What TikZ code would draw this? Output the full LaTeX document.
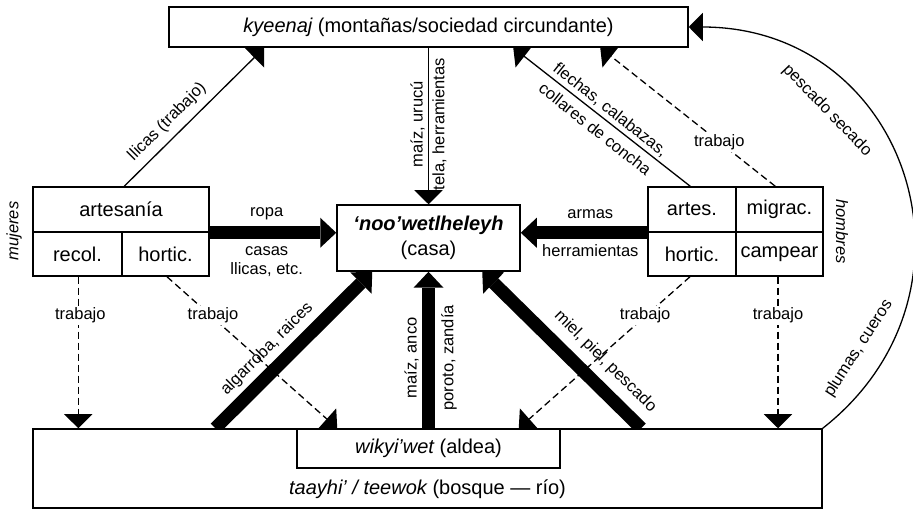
\documentclass[tikz,border=0pt]{standalone}
\usepackage{fontspec}
\setmainfont{Liberation Sans}
\usetikzlibrary{arrows.meta}
\pgfdeclarelayer{bg}
\pgfsetlayers{bg,main}
\newcommand\bigf{\fontsize{20}{25}\selectfont}
\newcommand\smf{\fontsize{16.5}{18.5}\selectfont}
\begin{document}
\begin{tikzpicture}[x=1pt,y=-1pt,
  box/.style={draw,line width=1.5pt,fill=white,inner sep=0pt,font=\bigf,align=center},
  lbl/.style={font=\smf,inner sep=1pt},
  wlbl/.style={lbl,fill=white,inner sep=2pt},
  thinarr/.style={draw,line width=1.3pt,-{Triangle[width=28pt,length=14pt]}},
  dasharr/.style={thinarr,dash pattern=on 7pt off 4pt},
  thickarr/.style={draw,line width=13pt,-{Triangle[width=30pt,length=16pt,line width=0pt]}},
  side/.style={font=\smf\itshape,inner sep=1pt}]
\useasboundingbox (0,0) rectangle (913,510);

% boxes
\node[box,minimum width=519pt,minimum height=40pt] (kyeenaj) at (428.5,27) {{\itshape kyeenaj} (montañas/sociedad circundante)};
\node[box,minimum width=176pt,minimum height=45pt] (artesania) at (121,209.5) {artesanía};
\node[box,minimum width=89pt,minimum height=44pt] (recol) at (77.5,254) {recol.};
\node[box,minimum width=87pt,minimum height=44pt] (hortW) at (165.5,254) {hortic.};
\node[box,minimum width=183pt,minimum height=66pt] (casa) at (428.5,238) {{\bfseries\itshape ‘noo’wetlheleyh}\\(casa)};
\node[box,minimum width=88pt,minimum height=45pt] (artesM) at (692,209.5) {artes.};
\node[box,minimum width=87pt,minimum height=45pt] (migrac) at (779.5,209.5) {migrac.};
\node[box,minimum width=88pt,minimum height=44pt] (hortM) at (692,254) {hortic.};
\node[box,minimum width=87pt,minimum height=44pt] (campear) at (779.5,254) {campear};
\node[box,minimum width=789pt,minimum height=79pt,
  label={[font=\bigf,yshift=-20.5pt]center:{{\itshape taayhi’ / teewok} (bosque — río)}}] (bosque) at (427.5,468.5) {};
\node[box,minimum width=263pt,minimum height=39pt] (wikyi) at (428.5,448.5) {{\itshape wikyi’wet} (aldea)};
\node[side,rotate=90] (mujeres) at (14,231) {mujeres};
\node[side,rotate=-90] (hombres) at (842,231.5) {hombres};

\begin{pgfonlayer}{bg}
% thick arrows into the house
\draw[thickarr] (artesania.south east) --
  node[lbl,pos=.45,yshift=19pt]{ropa}
  node[lbl,pos=.45,yshift=-29pt,align=center]{casas\\llicas, etc.}
  (artesania.south east -| casa.west);
\draw[thickarr] (artesM.south west) --
  node[lbl,pos=.45,yshift=19pt]{armas}
  node[lbl,pos=.45,yshift=-18pt]{herramientas}
  (artesM.south west -| casa.east);
\draw[thickarr] ([xshift=183pt]bosque.north west) --
  node[lbl,pos=.42,xshift=-14pt,yshift=13.6pt,rotate=45.2]{algarroba, raices}
  ([xshift=36pt]casa.south west);
\draw[thickarr] (casa.south |- bosque.north) --
  node[lbl,pos=.45,xshift=-17pt,rotate=90]{maíz, anco}
  node[lbl,pos=.45,xshift=20.5pt,rotate=90]{poroto, zandía}
  (casa.south);
\draw[thickarr] ([xshift=609pt]bosque.north west) --
  node[lbl,pos=.33,xshift=16.5pt,yshift=14.9pt,rotate=-44.8]{miel, piel, pescado}
  ([xshift=146pt]casa.south west);

% thin solid arrows
\draw[thinarr] ([xshift=92pt]artesania.north west) --
  node[lbl,pos=.39,xshift=-11.6pt,yshift=10.4pt,rotate=45]{llicas (trabajo)}
  ([xshift=96pt]kyeenaj.south west);
\draw[thinarr] (kyeenaj.south -| casa.north) --
  node[lbl,pos=.5,xshift=-11pt,yshift=2pt,rotate=90]{maíz, urucú}
  node[lbl,pos=.5,xshift=11pt,yshift=2pt,rotate=90]{tela, herramientas}
  (casa.north);
\draw[thinarr] ([xshift=43pt]artesM.north west) --
  node[lbl,pos=.49,xshift=6.7pt,yshift=8.4pt,rotate=-38.4]{flechas, calabazas,}
  node[lbl,pos=.49,xshift=-8.3pt,yshift=-10.6pt,rotate=-38.4]{collares de concha}
  ([xshift=345pt]kyeenaj.south west);
\draw[thinarr] (bosque.north east) .. controls +(173,-136) and +(220,0) ..
  node[lbl,pos=.66,xshift=-35pt,yshift=-7pt,rotate=-46]{pescado secado}
  node[lbl,pos=.18,xshift=-33pt,yshift=-4pt,rotate=57]{plumas, cueros}
  (kyeenaj.east);

% dashed work arrows
\draw[dasharr] ([xshift=40pt]migrac.north west) --
  node[wlbl,pos=.32]{trabajo}
  ([xshift=432pt]kyeenaj.south west);
\draw[dasharr] ([xshift=0.8pt]recol.south) --
  node[wlbl,pos=.255,xshift=2pt]{trabajo}
  ([xshift=0.8pt]recol.south |- bosque.north);
\draw[dasharr] ([xshift=1.5pt]hortW.south) --
  node[wlbl,pos=.27,yshift=2pt]{trabajo}
  ([xshift=41pt]wikyi.north west);
\draw[dasharr] ([xshift=-2pt]hortM.south) --
  node[wlbl,pos=.262,yshift=1pt]{trabajo}
  ([xshift=-42pt]wikyi.north east);
\draw[dasharr] ([xshift=-1.5pt]campear.south) --
  node[wlbl,pos=.255]{trabajo}
  ([xshift=-1.5pt]campear.south |- bosque.north);
\end{pgfonlayer}
\end{tikzpicture}
\end{document}
